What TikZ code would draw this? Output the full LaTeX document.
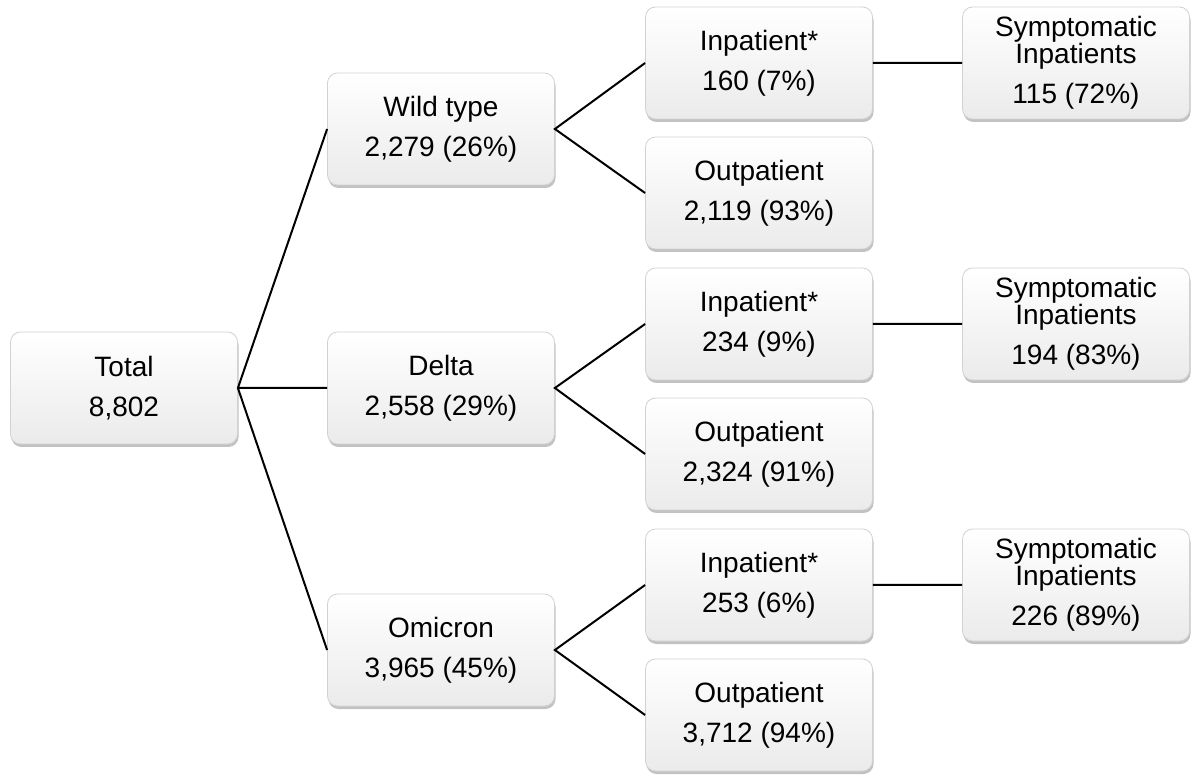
\documentclass[tikz,border=0pt]{standalone}
\usepackage{fontspec}
\setmainfont{Liberation Sans}
\usetikzlibrary{shadows}

\tikzset{
  box/.style={draw=gray!35, line width=0.4pt, rounded corners=5pt,
    shading=axis, top color=white, middle color=white, bottom color=gray!16,
    drop shadow={shadow xshift=0.5pt, shadow yshift=-1.5pt, opacity=0.4, fill=gray!80!black},
    minimum width=113.5pt, minimum height=56pt, inner sep=0pt, align=center,
    font=\fontsize{14}{20}\selectfont},
  link/.style={line width=1pt, black}
}

\begin{document}
\begin{tikzpicture}[x=0.5pt,y=-0.5pt]
  \useasboundingbox (0,0) rectangle (1200,780);
  % root
  \node[box] (total) at (124,388) {Total\\8,802};
  % variants
  \node[box] (wild) at (441,129) {Wild type\\2,279 (26\%)};
  \node[box] (delta) at (441,388) {Delta\\2,558 (29\%)};
  \node[box] (omicron) at (441,650) {Omicron\\3,965 (45\%)};
  % wild type branch
  \node[box] (wildin) at (759,63) {Inpatient*\\160 (7\%)};
  \node[box] (wildout) at (759,193) {Outpatient\\2,119 (93\%)};
  \node[box] (wildsym) at (1076,63) {Symptomatic\\[-6.5pt]Inpatients\\115 (72\%)};
  % delta branch
  \node[box] (deltain) at (759,324) {Inpatient*\\234 (9\%)};
  \node[box] (deltaout) at (759,454) {Outpatient\\2,324 (91\%)};
  \node[box] (deltasym) at (1076,324) {Symptomatic\\[-6.5pt]Inpatients\\194 (83\%)};
  % omicron branch
  \node[box] (omicronin) at (759,585) {Inpatient*\\253 (6\%)};
  \node[box] (omicronout) at (759,715) {Outpatient\\3,712 (94\%)};
  \node[box] (omicronsym) at (1076,585) {Symptomatic\\[-6.5pt]Inpatients\\226 (89\%)};
  % connectors
  \draw[link] (wild.west) -- (total.east) -- (omicron.west) (total.east) -- (delta.west);
  \draw[link] (wildin.west) -- (wild.east) -- (wildout.west) (wildin.east) -- (wildsym.west);
  \draw[link] (deltain.west) -- (delta.east) -- (deltaout.west) (deltain.east) -- (deltasym.west);
  \draw[link] (omicronin.west) -- (omicron.east) -- (omicronout.west) (omicronin.east) -- (omicronsym.west);
\end{tikzpicture}
\end{document}
